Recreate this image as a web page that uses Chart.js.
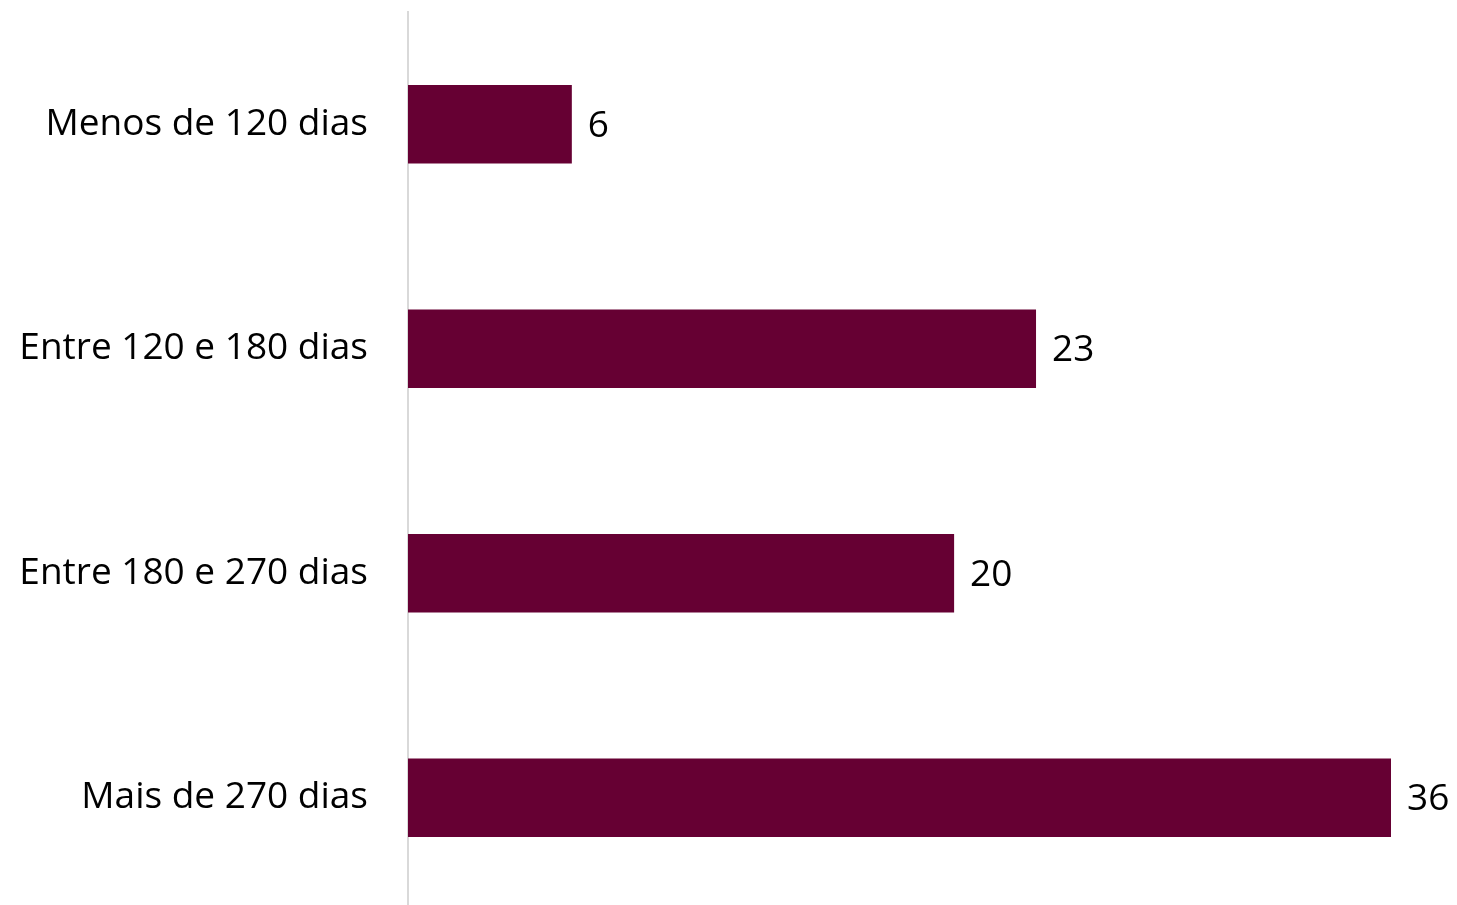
<!DOCTYPE html>
<html>
<head>
<meta charset="utf-8">
<script src="https://cdn.jsdelivr.net/npm/chart.js@4/dist/chart.umd.min.js"></script>
<style>
    html, body { margin: 0; padding: 0; background: #ffffff; overflow: hidden; }
    #wrap { width: 1457px; height: 910px; }
</style>
</head>
<body>
<div id="wrap"><canvas id="prazoChart" width="1457" height="910"></canvas></div>
<script>
const categories = ['Menos de 120 dias', 'Entre 120 e 180 dias', 'Entre 180 e 270 dias', 'Mais de 270 dias'];
const values = [6, 23, 20, 36];

const FONT = "'Open Sans', 'Noto Sans', sans-serif";
const FONT_SIZE = 37;

// rótulos de valor à direita das barras
const valueLabels = {
    id: 'valueLabels',
    afterDatasetsDraw(chart) {
        const ctx = chart.ctx;
        const meta = chart.getDatasetMeta(0);
        ctx.save();
        ctx.font = `${FONT_SIZE}px ${FONT}`;
        ctx.fillStyle = '#000000';
        ctx.textAlign = 'left';
        ctx.textBaseline = 'middle';
        meta.data.forEach((bar, i) => {
            ctx.fillText(values[i], bar.x + 16, bar.y + 2);
        });
        ctx.restore();
    }
};

new Chart(document.getElementById('prazoChart').getContext('2d'), {
    type: 'bar',
    data: {
        labels: categories,
        datasets: [{
            data: values,
            backgroundColor: '#660033',
            borderWidth: 0,
            categoryPercentage: 1,
            barPercentage: 0.35
        }]
    },
    options: {
        indexAxis: 'y',
        responsive: false,
        animation: false,
        layout: { padding: { top: 12, right: 66, left: 0, bottom: 0 } },
        plugins: {
            legend: { display: false },
            tooltip: { enabled: false }
        },
        scales: {
            x: {
                display: false,
                min: 0,
                max: 36
            },
            y: {
                afterFit(scale) {
                    scale.width = 408;
                    scale.paddingTop = 0;
                    scale.paddingBottom = 0;
                },
                grid: { display: false },
                border: { display: true, color: '#d9d9d9', width: 2 },
                ticks: {
                    color: '#000000',
                    padding: 32,
                    font: { family: FONT, size: FONT_SIZE }
                }
            }
        }
    },
    plugins: [valueLabels]
});
</script>
</body>
</html>
